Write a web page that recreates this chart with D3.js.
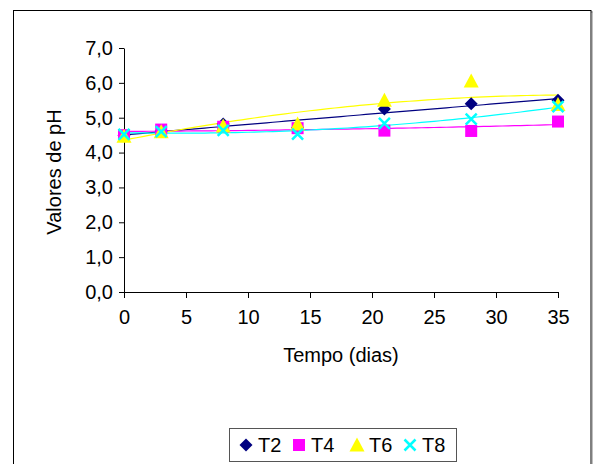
<!DOCTYPE html>
<html>
<head>
<meta charset="utf-8">
<script src="https://cdn.jsdelivr.net/npm/d3@7"></script>
<style>
  html, body { margin: 0; padding: 0; background: #fff; }
  svg { display: block; font-family: "Liberation Sans", Arial, sans-serif; }
</style>
</head>
<body>
<svg id="chart" width="593" height="464"></svg>
<script>
// Sampling days
const days = [0, 3, 8, 14, 21, 28, 35];

// pH per treatment
const t2 = [4.50, 4.62, 4.82, 4.72, 5.25, 5.40, 5.50];
const t4 = [4.50, 4.66, 4.74, 4.70, 4.63, 4.62, 4.89];
const t6 = [4.47, 4.60, 4.76, 4.82, 5.50, 6.05, 5.38];
const t8 = [4.52, 4.60, 4.64, 4.53, 4.84, 4.96, 5.32];

const seriesNames = ["T2", "T4", "T6", "T8"];
const seriesColors = ["#000080", "#FF00FF", "#FFFF00", "#00FFFF"];
const seriesShapes = ["diamond", "square", "triangle", "cross"];

const yTicks = [0, 1, 2, 3, 4, 5, 6, 7];
const xTicks = [0, 5, 10, 15, 20, 25, 30, 35];

const series = [t2, t4, t6, t8].map((vals, i) => ({
  name: seriesNames[i], color: seriesColors[i], shape: seriesShapes[i],
  points: days.map((d, j) => ({ x: d, y: vals[j] }))
}));

const svg = d3.select("#chart");

// Chart area frame with a soft shadow on the right
svg.append("rect").attr("x", 15).attr("y", 12).attr("width", 578).attr("height", 470)
  .attr("fill", "none").attr("stroke", "#aaa").attr("stroke-width", 1.5);
svg.append("rect").attr("x", 13.5).attr("y", 10.5).attr("width", 577.5).attr("height", 470)
  .attr("fill", "#fff").attr("stroke", "#000").attr("stroke-width", 1);

const x = d3.scaleLinear().domain([0, 35]).range([124, 558]);
const y = d3.scaleLinear().domain([0, 7]).range([292, 48]);

// Axes
const fs = "20px";
const xAxis = svg.append("g").attr("transform", `translate(0,${y(0)})`)
  .call(d3.axisBottom(x).tickValues(xTicks).tickSize(6).tickSizeOuter(0).tickPadding(12));
const yAxis = svg.append("g").attr("transform", `translate(${x(0)},0)`)
  .call(d3.axisLeft(y).tickValues(yTicks).tickSize(5).tickSizeOuter(0).tickPadding(6)
    .tickFormat(d => d3.format(".1f")(d).replace(".", ",")));
[xAxis, yAxis].forEach(a => {
  a.selectAll("path, line").attr("stroke", "#000").attr("stroke-width", 1);
  a.selectAll("text").attr("font-size", fs).attr("fill", "#000")
    .attr("font-family", "Liberation Sans, Arial, sans-serif");
});

// Axis titles
svg.append("text").attr("x", (x(0) + x(35)) / 2).attr("y", 362)
  .attr("text-anchor", "middle").attr("font-size", fs).text("Tempo (dias)");
svg.append("text").attr("transform", `translate(61,${(y(0) + y(7)) / 2 + 2}) rotate(-90)`)
  .attr("text-anchor", "middle").attr("font-size", fs).text("Valores de pH");

// Second-order polynomial least-squares fit
function polyFit2(pts) {
  let s = [0, 0, 0, 0, 0], t = [0, 0, 0];
  pts.forEach(p => {
    for (let k = 0; k <= 4; k++) s[k] += Math.pow(p.x, k);
    for (let k = 0; k <= 2; k++) t[k] += Math.pow(p.x, k) * p.y;
  });
  const A = [[s[0], s[1], s[2], t[0]], [s[1], s[2], s[3], t[1]], [s[2], s[3], s[4], t[2]]];
  for (let i = 0; i < 3; i++) {
    for (let r = i + 1; r < 3; r++) {
      const f = A[r][i] / A[i][i];
      for (let c = i; c < 4; c++) A[r][c] -= f * A[i][c];
    }
  }
  const c = [0, 0, 0];
  for (let i = 2; i >= 0; i--) {
    let v = A[i][3];
    for (let j = i + 1; j < 3; j++) v -= A[i][j] * c[j];
    c[i] = v / A[i][i];
  }
  return xv => c[0] + c[1] * xv + c[2] * xv * xv;
}

const line = d3.line().x(d => x(d.x)).y(d => y(d.y));
const trendX = d3.range(0, 35.01, 0.5);

// Trend lines
series.forEach(s => {
  const f = polyFit2(s.points);
  svg.append("path").datum(trendX.map(v => ({ x: v, y: f(v) })))
    .attr("d", line).attr("fill", "none").attr("stroke", s.color).attr("stroke-width", 1.2);
});

// Marker symbols
function drawMarker(g, shape, color, cx, cy, size) {
  const h = size / 2;
  if (shape === "diamond") {
    g.append("path").attr("d", `M${cx},${cy - h}L${cx + h},${cy}L${cx},${cy + h}L${cx - h},${cy}Z`).attr("fill", color);
  } else if (shape === "square") {
    g.append("rect").attr("x", cx - h + 0.5).attr("y", cy - h + 0.5).attr("width", size - 1).attr("height", size - 1).attr("fill", color);
  } else if (shape === "triangle") {
    g.append("path").attr("d", `M${cx},${cy - h - 1}L${cx + h + 1},${cy + h}L${cx - h - 1},${cy + h}Z`).attr("fill", color);
  } else {
    const k = h - 1;
    g.append("path").attr("d", `M${cx - k},${cy - k}L${cx + k},${cy + k}M${cx - k},${cy + k}L${cx + k},${cy - k}`)
      .attr("stroke", color).attr("stroke-width", 2.5).attr("fill", "none");
  }
}

series.forEach(s => {
  const g = svg.append("g");
  s.points.forEach(p => drawMarker(g, s.shape, s.color, x(p.x), y(p.y), 13));
});

// Legend
const lg = svg.append("g");
lg.append("rect").attr("x", 229.5).attr("y", 428.5).attr("width", 227).attr("height", 33)
  .attr("fill", "#fff").attr("stroke", "#555").attr("stroke-width", 1);
const legendX = [246, 299, 357, 410];
series.forEach((s, i) => {
  drawMarker(lg, s.shape, s.color, legendX[i], 445, 13);
  lg.append("text").attr("x", legendX[i] + 12).attr("y", 452).attr("font-size", fs).text(s.name);
});
</script>
</body>
</html>
